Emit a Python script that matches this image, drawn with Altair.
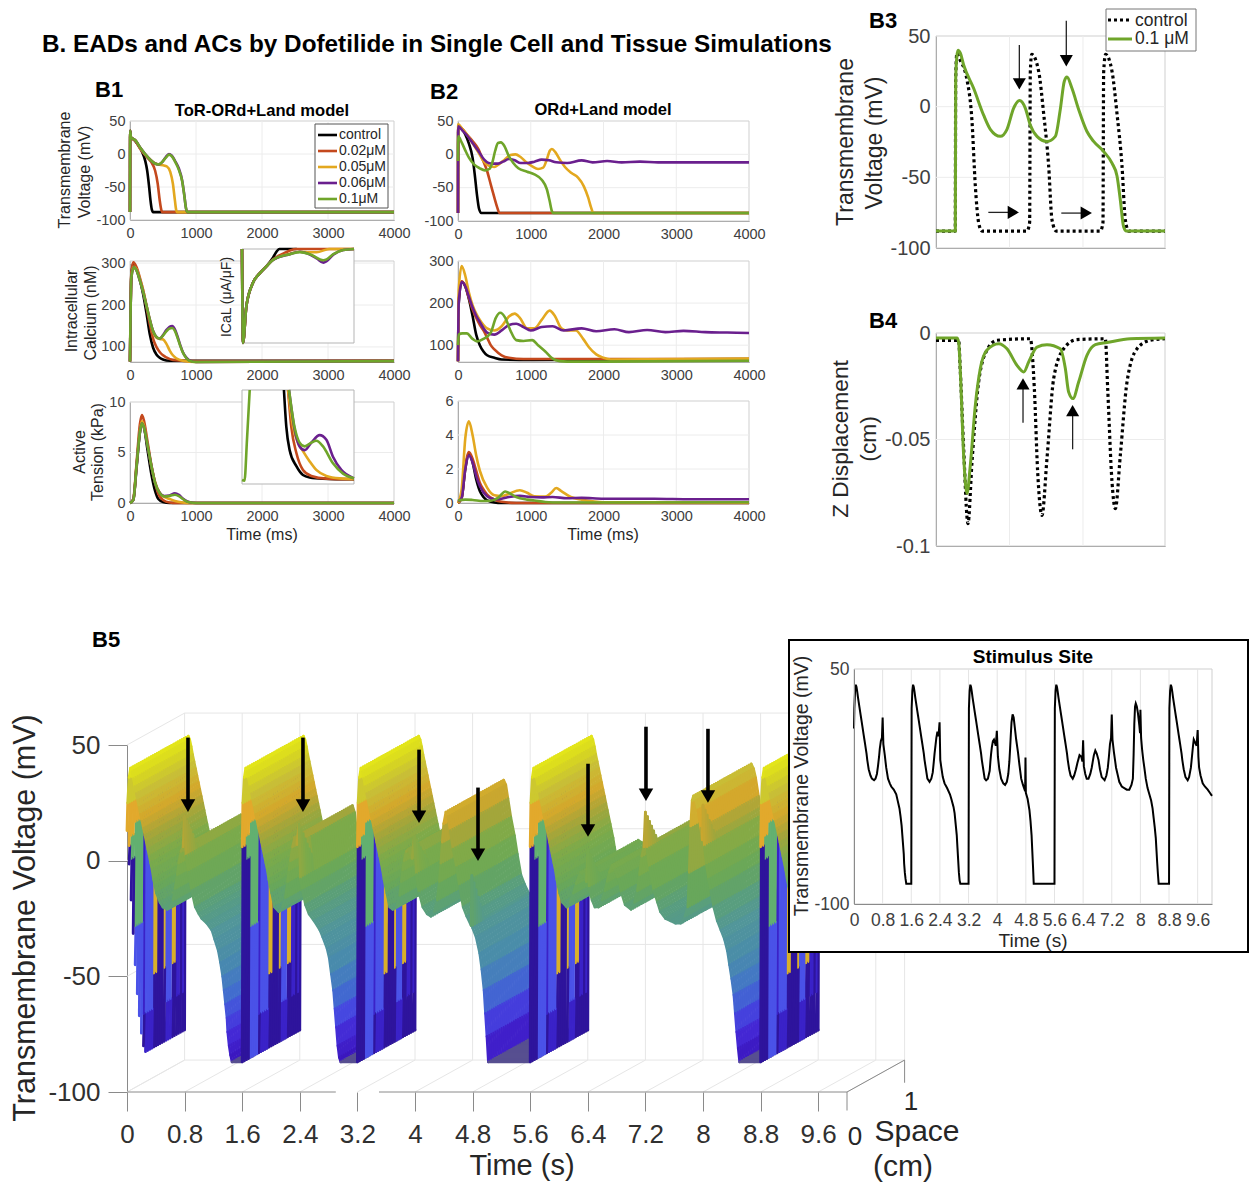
import numpy as np
import pandas as pd
import altair as alt

alt.data_transformers.disable_max_rows()

W, H = 1241, 1175
FONT = "Liberation Sans"
BLACK, RED, YEL, PUR, GRN = "#000000", "#c4491d", "#e3a81f", "#6a1f8e", "#6fa52a"
B1_COLORS = [BLACK, RED, YEL, PUR, GRN]

# ---------- B1 traces (t in ms) ----------
B1V = [
 [(0,-88),(3,35),(15,25),(60,22),(120,14),(180,4),(230,-10),(260,-25),(290,-50),(310,-70),(330,-84),(350,-88),(4000,-88)],
 [(0,-88),(3,35),(15,25),(80,20),(160,7),(240,-3),(320,-12),(380,-25),(420,-45),(450,-70),(475,-85),(490,-88),(4000,-88)],
 [(0,-88),(3,35),(15,25),(80,21),(160,8),(280,-6),(360,-13),(430,-16),(500,-17),(560,-19),(610,-27),(650,-45),(680,-70),(700,-85),(715,-88),(4000,-88)],
 [(0,-88),(3,35),(15,25),(80,21),(160,9),(280,-6),(370,-14),(430,-16),(480,-13),(540,-5),(590,0),(630,-2),(680,-10),(740,-22),(790,-40),(820,-60),(850,-83),(870,-88),(4000,-88)],
 [(0,-88),(3,35),(15,25),(80,21),(160,9),(280,-6),(370,-14),(430,-16),(480,-13),(540,-6),(590,-1),(630,-3),(680,-11),(740,-24),(790,-41),(820,-61),(850,-83),(870,-88),(4000,-88)],
]
B1C = [
 [(0,65),(20,270),(50,300),(100,285),(150,260),(200,225),(250,180),(300,130),(350,98),(400,82),(450,74),(500,70),(600,67),(1000,67),(4000,67)],
 [(0,65),(20,275),(50,302),(100,290),(150,265),(200,235),(250,195),(300,155),(350,120),(400,100),(450,88),(500,80),(550,75),(650,69),(1000,66),(4000,67)],
 [(0,65),(20,270),(60,292),(100,285),(150,262),(200,235),(250,200),(300,165),(350,135),(400,122),(450,119),(500,118),(550,108),(600,92),(650,80),(700,73),(800,67),(1000,64),(4000,66)],
 [(0,65),(20,265),(60,290),(100,282),(150,258),(200,230),(250,198),(300,165),(350,138),(400,124),(450,120),(500,128),(550,140),(600,148),(640,150),(680,142),(720,125),(760,105),(800,88),(850,75),(900,68),(1000,64),(4000,66)],
 [(0,65),(20,265),(60,290),(100,282),(150,258),(200,230),(250,198),(300,165),(350,138),(400,124),(450,120),(500,127),(550,137),(600,144),(640,145),(680,138),(720,122),(760,103),(800,87),(850,74),(900,67),(1000,64),(4000,66)],
]
B1T = [
 [(0,0),(50,.3),(100,3.5),(150,7),(180,8),(210,7.6),(260,5.5),(320,3),(380,1.2),(430,.4),(500,.1),(600,0),(4000,0)],
 [(0,0),(50,.4),(100,4),(150,7.8),(180,8.7),(210,8.2),(260,6.3),(320,3.9),(380,2),(430,.9),(500,.3),(600,.05),(700,0),(4000,0)],
 [(0,0),(50,.3),(100,3.8),(150,7.2),(180,8.1),(210,7.7),(260,6),(320,3.8),(380,2.1),(450,1),(520,.6),(600,.4),(680,.2),(800,.05),(900,0),(4000,0)],
 [(0,0),(50,.3),(100,3.7),(150,7),(180,7.9),(210,7.5),(260,5.9),(320,3.8),(380,2),(450,1),(520,.7),(600,.75),(680,.95),(740,.8),(800,.45),(870,.15),(950,.03),(1050,0),(4000,0)],
 [(0,0),(50,.3),(100,3.7),(150,7),(180,7.9),(210,7.5),(260,5.9),(320,3.8),(380,2),(450,1),(520,.65),(600,.7),(680,.82),(740,.68),(800,.4),(870,.12),(950,.03),(1050,0),(4000,0)],
]
# ---------- B1 insets ----------
ICAL_HEAD = [(0,0),(8,-10),(35,-6.1),(88,-3.6),(142,-2.6),(196,-1.85)]
ICAL = [
 ICAL_HEAD+[(250,-.9),(282,-.2),(300,0),(440,0)],
 ICAL_HEAD+[(250,-1.1),(330,-.5),(385,-.15),(440,0),(900,0)],
 ICAL_HEAD+[(250,-1.15),(385,-.5),(466,-.3),(546,-.35),(600,-.35),(700,0),(900,0)],
 ICAL_HEAD+[(250,-1.15),(385,-.55),(466,-.3),(546,-.6),(600,-1),(654,-1.45),(680,-1.3),(734,-.6),(815,-.1),(900,0)],
 ICAL_HEAD+[(250,-1.15),(385,-.55),(466,-.33),(546,-.55),(654,-1.2),(680,-1.1),(734,-.55),(815,-.1),(900,0)],
]
TEN_HEAD = [(0,.43),(20,.36),(40,4.7),(62,10)]
TENS_A = [[(337,10),(356,6.1),(383,3.6),(437,1.9),(490,.96),(544,.7),(650,.57),(900,.5)],
          [(370,10),(396,6.1),(437,3.3),(490,1.5),(557,.86),(678,.57),(900,.5)],
          [(370,10),(410,6.1),(450,4.4),(490,3.5),(544,2.4),(597,1.5),(678,.86),(785,.6),(900,.54)],
          [(378,10),(423,5.8),(463,4),(504,3.6),(557,4.4),(624,5.2),(678,4.7),(731,2.9),(798,1.5),(900,.6)],
          [(378,10),(423,6),(463,4.4),(504,4),(557,4.4),(597,4.6),(651,4),(731,2.2),(812,1.1),(900,.6)]]
# ---------- B2 traces ----------
B2V = [
 [(0,-88),(3,43),(50,38),(100,30),(150,16),(200,-5),(230,-30),(260,-60),(290,-82),(320,-88),(4000,-88)],
 [(0,-88),(3,43),(60,38),(120,30),(200,20),(280,8),(340,-8),(400,-25),(450,-45),(500,-65),(540,-80),(570,-88),(4000,-88)],
 [(0,-88),(3,45),(60,38),(120,30),(200,17),(280,3),(350,-10),(420,-17),(500,-19),(560,-15),(640,-8),(720,-1),(790,0),(860,-4),(940,-12),(1020,-18),(1100,-22),(1170,-20),(1220,-8),(1260,5),(1290,8),(1340,3),(1400,-8),(1470,-19),(1560,-28),(1650,-35),(1730,-48),(1790,-65),(1830,-80),(1860,-88),(4000,-88)],
 [(0,-88),(3,42),(60,36),(120,29),(200,17),(280,5),(360,-8),(420,-13),(480,-14),(550,-14),(620,-11),(700,-7),(780,-9),(860,-13),(960,-13),(1050,-11),(1150,-8),(1250,-9),(1350,-12),(1500,-13),(1700,-9),(1850,-12),(2050,-10),(2250,-12),(2500,-11),(2750,-12),(3000,-12),(3250,-12),(3500,-12),(4000,-12)],
 [(0,-10),(3,27),(50,18),(100,6),(150,-5),(220,-15),(300,-21),(370,-24),(430,-22),(470,-13),(510,5),(550,17),(590,18),(640,12),(700,-3),(760,-13),(830,-21),(950,-26),(1050,-30),(1150,-38),(1220,-52),(1260,-70),(1290,-85),(1310,-88),(4000,-88)],
]
B2C = [
 [(0,62),(10,200),(50,250),(100,240),(150,210),(200,170),(250,125),(300,100),(350,85),(400,76),(500,70),(600,66),(1000,65),(4000,67)],
 [(0,62),(10,210),(50,252),(100,240),(150,212),(200,185),(250,165),(300,148),(350,135),(400,118),(450,100),(500,90),(600,76),(700,70),(900,67),(4000,67)],
 [(0,62),(10,230),(50,288),(100,265),(150,225),(200,195),(250,175),(300,160),(400,140),(500,135),(600,145),(700,168),(780,175),(850,165),(950,140),(1050,140),(1150,160),(1260,182),(1330,170),(1420,140),(1500,135),(1620,135),(1720,115),(1800,95),(1900,78),(2000,70),(2100,66),(4000,68)],
 [(0,62),(10,200),(50,250),(100,240),(150,215),(200,190),(250,170),(300,155),(400,130),(500,125),(600,135),(700,148),(800,151),(900,143),(1000,135),(1150,143),(1300,145),(1450,135),(1700,140),(1900,133),(2150,138),(2350,131),(2600,136),(2850,131),(3100,134),(3400,131),(3700,130),(4000,129)],
 [(0,100),(10,125),(60,128),(120,128),(200,115),(260,109),(350,115),(450,130),(520,165),(580,177),(650,165),(720,135),(800,112),(900,110),(1020,112),(1100,100),(1200,85),(1300,68),(1400,62),(1500,61),(2000,61),(4000,63)],
]
B2T = [
 [(0,0),(50,.3),(100,2),(150,2.9),(200,2.4),(250,1.4),(300,.7),(350,.35),(400,.15),(500,.03),(600,0),(4000,0)],
 [(0,0),(50,.3),(100,2.1),(150,3),(200,2.6),(250,1.9),(300,1.2),(350,.8),(400,.5),(500,.2),(600,.07),(800,0),(4000,0)],
 [(0,0),(50,.8),(100,3.8),(150,4.8),(200,4),(250,2.8),(300,1.9),(400,.9),(500,.45),(600,.4),(700,.55),(850,.75),(950,.6),(1050,.4),(1200,.38),(1280,.6),(1350,.88),(1420,.7),(1550,.35),(1700,.2),(1850,.1),(2000,.04),(4000,.03)],
 [(0,.1),(50,.3),(100,2),(150,2.8),(200,2.4),(250,1.6),(300,1),(400,.4),(500,.22),(600,.25),(700,.35),(850,.42),(1000,.35),(1150,.33),(1300,.35),(1500,.28),(1700,.3),(2000,.25),(2300,.25),(2700,.25),(3200,.22),(4000,.22)],
 [(0,.15),(100,.2),(200,.18),(350,.12),(450,.13),(550,.3),(650,.68),(720,.55),(800,.35),(950,.2),(1050,.15),(1200,.06),(1400,.03),(4000,.04)],
]
# ---------- B3 / B4 ----------
B3_CTRL = [(0,-88),(262,-88),(268,20),(285,38),(310,35),(422,19),(490,-10.5),(535,-56),(580,-82),(626,-88),(1238,-88),(1274,-82),(1283,24),(1302,37),(1397,25),(1465,-5),(1533,-42),(1578,-80),(1637,-88),(2236,-88),(2272,-82),(2281,24),(2308,37),(2395,25),(2463,-5),(2531,-42),(2576,-80),(2621,-88),(3116,-88)]
B3_DRUG = [(0,-88),(263,-88),(268,20),(285,36),(300,40),(330,38),(376,29.5),(512,13),(648,-6),(739,-16),(875,-21),(966,-16),(1057,-1),(1138,4.3),(1215,-1),(1283,-13),(1374,-21),(1510,-24.6),(1624,-21),(1691,-2),(1746,18),(1782,21),(1850,13),(1941,-2),(2054,-17.6),(2145,-24.6),(2281,-31.7),(2395,-40),(2463,-49),(2508,-66),(2553,-85),(2590,-88),(3116,-88)]
B4_CTRL = [(0,-.0035),(308,-.0035),(331,-.018),(376,-.054),(435,-.0895),(490,-.0605),(580,-.023),(694,-.008),(830,-.0034),(1283,-.0027),(1338,-.026),(1383,-.065),(1442,-.0856),(1510,-.059),(1601,-.0214),(1737,-.0074),(1918,-.0031),(2304,-.0027),(2336,-.026),(2395,-.07),(2440,-.0825),(2508,-.0574),(2599,-.023),(2735,-.0074),(2916,-.0034),(3116,-.0027)]
B4_DRUG = [(0,-.0023),(286,-.0023),(308,-.0042),(331,-.018),(376,-.0574),(422,-.0754),(467,-.062),(535,-.034),(603,-.0167),(694,-.008),(853,-.005),(966,-.0074),(1102,-.0152),(1193,-.0183),(1261,-.0136),(1374,-.0066),(1510,-.0055),(1692,-.0074),(1760,-.0167),(1805,-.0277),(1864,-.0308),(1941,-.023),(2054,-.0105),(2168,-.0055),(2327,-.0045),(2644,-.0027),(3116,-.0023)]

# ---------- B5 stimulus-site trace (t in s, mV) ----------
UPSTROKES = [0, 1.6, 3.2, 5.6, 8.8]
PLATEAU = [(0,-87),(.01,25),(.03,36),(.05,40),(.07,38.5),(.09,35.5),(.11,32),(.13,29),(.15,26),(.17,23),(.19,20),(.21,17),(.23,14),(.25,11),(.27,8),(.29,5),(.31,2),(.33,-1),(.35,-4),(.37,-8),(.39,-11),(.41,-14)]
TAILS = [
 [(.46,-18),(.50,-20),(.56,-21),(.60,-20),(.64,-17),(.67,-12),(.70,-6),(.72,-1),(.75,4),(.78,6),(.82,2),(.86,-5),(.90,-13),(.95,-20),(1.0,-23),(1.04,-25),(1.11,-27),(1.18,-30),(1.22,-34),(1.27,-39),(1.30,-44),(1.33,-50),(1.35,-56),(1.37,-62),(1.39,-68),(1.40,-74),(1.42,-80),(1.44,-84),(1.46,-87)],
 [(2.05,-20),(2.11,-22),(2.16,-20),(2.20,-16),(2.23,-9),(2.25,-4),(2.27,0),(2.30,6),(2.33,10),(2.36,7),(2.41,-8),(2.44,-13),(2.48,-19),(2.53,-23),(2.60,-26),(2.68,-30),(2.72,-33),(2.78,-38),(2.81,-42),(2.84,-49),(2.87,-56),(2.89,-64),(2.91,-72),(2.93,-80),(2.95,-85),(2.97,-87)],
 [(3.65,-20),(3.69,-21),(3.74,-20),(3.79,-15),(3.81,-9),(3.83,-4),(3.85,0),(3.88,4),(3.91,5),(3.96,1),(4.02,-6),(4.06,-14),(4.11,-20),(4.17,-23),(4.22,-24),(4.27,-22),(4.31,-17),(4.34,-9),(4.36,-1),(4.38,8),(4.40,16),(4.43,21),(4.46,19),(4.49,13),(4.53,5),(4.58,-3),(4.62,-11),(4.67,-20),(4.72,-24),(4.78,-28),(4.80,-29),(4.85,-33),(4.90,-40),(4.93,-47),(4.96,-56),(4.98,-66),(5.00,-76),(5.02,-87)],
 [(6.05,-18),(6.11,-20),(6.15,-18),(6.20,-14),(6.24,-10),(6.30,-5),(6.35,-6),(6.38,-9),(6.42,-12),(6.46,-17),(6.50,-20),(6.55,-20),(6.60,-17),(6.64,-13),(6.67,-9),(6.70,-5),(6.74,-2),(6.78,-4),(6.83,-8),(6.87,-14),(6.92,-19),(7.0,-21),(7.05,-18),(7.09,-13),(7.12,-6),(7.15,2),(7.18,6),(7.22,5),(7.26,-3),(7.32,-13),(7.37,-18),(7.41,-22),(7.48,-25),(7.55,-26),(7.62,-27),(7.69,-27),(7.75,-24),(7.79,-20),(7.81,-5),(7.83,15),(7.85,26),(7.87,28),(7.90,26),(7.93,22),(7.97,14),(7.99,9),(8.02,6),(8.05,-2),(8.08,-8),(8.11,-13),(8.15,-20),(8.20,-26),(8.25,-30),(8.30,-34),(8.34,-39),(8.37,-45),(8.40,-51),(8.43,-58),(8.45,-66),(8.47,-74),(8.49,-81),(8.51,-87)],
 [(9.26,-19),(9.32,-21),(9.36,-19),(9.41,-13),(9.44,-6),(9.47,1),(9.49,5),(9.53,3),(9.57,1),(9.62,-6),(9.64,-13),(9.68,-18),(9.74,-23),(9.80,-25),(9.88,-27),(9.94,-29),(10.0,-31)],
]
SPIKES = [(.80,19),(2.39,16),(3.99,10.5),(4.79,-6.5),(6.40,4.5),(7.20,21),(8.00,24),(9.60,11)]
FIRST_EDGE = [13,-2,-18,-33,-47,-60,-70,-78,-84,-87]

# surface colours (mV -> colour)
SURF_V = [-87,-78,-68,-58,-45,-32,-22,-12,0,10,18,28,35,40]
SURF_C = ["#3a16bc","#4426d4","#4648e0","#4272cc","#4a8cab","#52969a","#5a9f7c","#69a85a","#7dab4a","#a8a63a","#d4a82c","#c8c038","#d8d820","#e6e81a"]
D, M, B, Y = "#2e149c", "#3a22c8", "#4a52e8", "#d9b02a"
G, O = "#62b070", "#e2a92c"
# wall colour pieces per mesh level: (break voltages, colours)
WALL = {0:([6],[D,O]),1:([6],[D,O]),2:([0,10],[D,G,O]),3:([0,10],[D,G,O]),
        4:([-30,15],[B,G,O]),5:([-30,15],[B,G,O]),6:([-30,15],[B,G,O]),7:([-30,15],[B,G,O]),
        8:([-70],[D,M]),9:([-70],[M,B]),10:([-70],[M,B]),11:([-70],[M,B]),12:([-70],[M,B]),
        13:([-55],[D,Y]),14:([-55],[D,Y]),15:([-90],[D,D]),16:([-90],[D,D]),17:([-90],[D,D]),
        18:([-55],[D,Y]),19:([-70],[M,B]),20:([-70],[M,B]),21:([-70],[M,B]),22:([-55],[D,Y]),
        23:([-55],[D,Y]),24:([-70],[D,M]),25:([-70],[D,M]),26:([-90],[D,D]),27:([-70],[D,M]),28:([-90],[D,D])}
LEVELS = 28
SPACE_SHIFT_T, SPACE_SHIFT_V = 0.8, 13.8

ARROWS_B5 = [(.847,53.2,23.8),(2.444,53.2,23.8),(4.056,48,19),(4.875,31.6,2.6),(6.403,41.9,13),(7.208,57.9,28.5),(8.069,57,27.7)]
ARROWS_B3_V = [(1134,43.6,16.1),(1773,60.8,32.5)]
ARROWS_B3_H = [(712,1052,-74.8),(1705,2045,-75.3)]
ARROWS_B4 = [(1184,-.0421,-.0239),(1859,-.0546,-.0364)]
NUM = "'' + datum.value"


def S(dom, rng):
    return alt.Scale(domain=dom, range=[r - 8 for r in rng], nice=False, zero=False, clamp=False)


def axis(orient, offset, values, size, padding=4, z=0, tick=0, domain=True, labels=True,
         color="#404040", dcolor="#8a8a8a"):
    kw = dict(orient=orient, offset=offset, values=values, labelFontSize=size, labelFont=FONT, labelColor=color,
              labelPadding=padding, tickSize=tick, tickColor=dcolor, domain=domain, domainColor=dcolor, grid=False,
              title=None, zindex=z, labelOverlap=False, labelFlush=False, labels=labels, domainWidth=1, ticks=tick > 0,
              labelExpr=NUM)
    return alt.Axis(**kw)


def frame(sx, sy, xd, yd, xax=None, yax=None, fill=None, stroke="#cfcfcf"):
    df = pd.DataFrame({"x": [xd[0]], "x2": [xd[1]], "y": [yd[0]], "y2": [yd[1]]})
    kw = dict(fill=fill) if fill else dict(fillOpacity=0)
    return alt.Chart(df).mark_rect(stroke=stroke, strokeWidth=1, **kw).encode(
        x=alt.X("x:Q", scale=sx, axis=xax), x2="x2:Q", y=alt.Y("y:Q", scale=sy, axis=yax), y2="y2:Q")


def segs(rows, sx, sy, color=None, width=1, dash=None):
    df = pd.DataFrame(rows, columns=["x", "y", "x2", "y2"])
    kw = {}
    if dash:
        kw["strokeDash"] = dash
    return alt.Chart(df).mark_rule(color=color, strokeWidth=width, **kw).encode(
        x=alt.X("x:Q", scale=sx, axis=None), x2="x2:Q", y=alt.Y("y:Q", scale=sy, axis=None), y2="y2:Q")


def grid(xs, ys, xd, yd, sx, sy, color="#ececec"):
    rows = [(v, yd[0], v, yd[1]) for v in xs] + [(xd[0], v, xd[1], v) for v in ys]
    return segs(rows, sx, sy, color=color, width=1)


def curves(series, colors, sx, sy, width=2.6, interp="monotone", dash=None):
    rows = []
    for k, (pts, c) in enumerate(zip(series, colors)):
        for i, (t, v) in enumerate(pts):
            rows.append({"t": t, "v": v, "c": f"{k}{c}", "i": i})
    df = pd.DataFrame(rows)
    dom = [f"{k}{c}" for k, c in enumerate(colors)]
    kw = {}
    if dash:
        kw["strokeDash"] = dash
    return alt.Chart(df).mark_line(strokeWidth=width, interpolate=interp, **kw).encode(
        x=alt.X("t:Q", scale=sx, axis=None), y=alt.Y("v:Q", scale=sy, axis=None),
        color=alt.Color("c:N", scale=alt.Scale(domain=dom, range=list(colors)), legend=None),
        order=alt.Order("i:Q"))


def heads(rows, shape, size, sx, sy):
    df = pd.DataFrame(rows, columns=["x", "y"])
    return alt.Chart(df).mark_point(shape=shape, size=size, filled=True, color="black", opacity=1, strokeWidth=0).encode(
        x=alt.X("x:Q", scale=sx, axis=None), y=alt.Y("y:Q", scale=sy, axis=None))


layers = []
T4K = [0, 1000, 2000, 3000, 4000]


def small_panel(xr, yr, yd, yticks, series, width=2.6):
    sx, sy = S([0, 4000], xr), S(yd, yr)
    xax = axis("bottom", yr[0] - 8 - (H), T4K, 14.5, padding=6)
    yax = axis("left", -(xr[0] - 8), yticks, 14.5, padding=5)
    layers.append(frame(sx, sy, [0, 4000], yd, xax, yax))
    layers.append(grid([1000, 2000, 3000], [v for v in yticks if v not in yd], [0, 4000], yd, sx, sy))
    layers.append(curves(series, B1_COLORS, sx, sy, width))


small_panel([130, 394], [220, 121], [-100, 50], [-100, -50, 0, 50], B1V)
small_panel([130, 394], [362, 261], [64, 305], [100, 200, 300], B1C)
small_panel([130, 394], [503, 402], [0, 10], [0, 5, 10], B1T)
small_panel([458, 749], [221, 121], [-100, 50], [-100, -50, 0, 50], B2V)
small_panel([458, 749], [362, 261], [60, 300], [100, 200, 300], B2C)
small_panel([458, 749], [503, 401], [0, 6], [0, 2, 4, 6], B2T)

# B1 insets
sxi, syi = S([0, 900], [242, 354]), S([-10, 0], [343, 249])
layers.append(frame(sxi, syi, [0, 900], [-10, 0], fill="white", stroke="#b5b5b5"))
layers.append(curves(ICAL, B1_COLORS, sxi, syi, 2.6))
sxj, syj = S([0, 900], [242, 354]), S([0, 10], [484, 390])
layers.append(frame(sxj, syj, [0, 900], [0, 10], fill="white", stroke="#b5b5b5"))
layers.append(curves([TEN_HEAD], [GRN], sxj, syj, 2.6))
layers.append(curves(TENS_A, B1_COLORS, sxj, syj, 2.6))

# B3
sx3, sy3 = S([0, 3116], [936, 1165]), S([-100, 50], [248, 36])
layers.append(frame(sx3, sy3, [0, 3116], [-100, 50],
                    axis("bottom", 248 - 8 - H, [1000, 2000], 20, labels=False),
                    axis("left", -(936 - 8), [-100, -50, 0, 50], 20, padding=6)))
layers.append(grid([1000, 2000], [-50, 0], [0, 3116], [-100, 50], sx3, sy3))
layers.append(curves([B3_CTRL], [BLACK], sx3, sy3, 3.2, dash=[3, 3]))
layers.append(curves([B3_DRUG], [GRN], sx3, sy3, 3))
layers.append(segs([(t, a, t, b) for t, a, b in ARROWS_B3_V], sx3, sy3, "#222222", 1.3))
layers.append(heads([(t, b) for t, a, b in ARROWS_B3_V], "triangle-down", 170, sx3, sy3))
layers.append(segs([(a, v, b, v) for a, b, v in ARROWS_B3_H], sx3, sy3, "#222222", 1.3))
layers.append(heads([(b, v) for a, b, v in ARROWS_B3_H], "triangle-right", 170, sx3, sy3))

# B4
sx4, sy4 = S([0, 3116], [936, 1165]), S([-.1, 0], [546, 333])
layers.append(frame(sx4, sy4, [0, 3116], [-.1, 0],
                    axis("bottom", 546 - 8 - H, [1000, 2000], 20, labels=False),
                    axis("left", -(936 - 8), [-.1, -.05, 0], 20, padding=6)))
layers.append(grid([1000, 2000], [-.05], [0, 3116], [-.1, 0], sx4, sy4))
layers.append(curves([B4_CTRL], [BLACK], sx4, sy4, 3.2, dash=[3, 3]))
layers.append(curves([B4_DRUG], [GRN], sx4, sy4, 3))
layers.append(segs([(t, a, t, b) for t, a, b in ARROWS_B4], sx4, sy4, "#222222", 1.3))
layers.append(heads([(t, b) for t, a, b in ARROWS_B4], "triangle-up", 170, sx4, sy4))

# ---------- B5 surface ----------
sx5, sy5 = S([0, 11], [127, 919]), S([-100, 50], [1092, 745])
TICKS5 = [0, .8, 1.6, 2.4, 3.2, 4, 4.8, 5.6, 6.4, 7.2, 8, 8.8, 9.6]
layers.append(alt.Chart(pd.DataFrame({"x": [0.0, 0.0], "y": [-100.0, 50.0]})).mark_point(opacity=0).encode(
    x=alt.X("x:Q", scale=sx5, axis=axis("bottom", 1092 - 8 - H, TICKS5, 26, padding=10, tick=19, domain=False, color="#303030")),
    y=alt.Y("y:Q", scale=sy5, axis=axis("left", -(127 - 8), [-100, -50, 0, 50], 26, padding=8, tick=19, color="#303030"))))
sh_t, sh_v = SPACE_SHIFT_T, SPACE_SHIFT_V
wall_rows = []
for t in TICKS5 + [10]:
    wall_rows.append((t, -100, t + sh_t, -100 + sh_v))
    wall_rows.append((t + sh_t, -100 + sh_v, t + sh_t, 50 + sh_v))
for v in [-100, -50, 0, 50]:
    wall_rows.append((sh_t, v + sh_v, 10 + sh_t, v + sh_v))
    wall_rows.append((0, v, sh_t, v + sh_v))
layers.append(segs(wall_rows, sx5, sy5, "#e6e6e6", 1))
layers.append(segs([(0, -100, 2.9, -100), (3.5, -100, 10, -100), (10, -100, 10.8, -86.2), (10.8, -86.2, 10.8, -96), (10, -100, 10, -108)],
                   sx5, sy5, "#8a8a8a", 1))


def hexcol(v):
    r = [int(c[1:3], 16) for c in SURF_C]
    g = [int(c[3:5], 16) for c in SURF_C]
    b = [int(c[5:7], 16) for c in SURF_C]
    return "#%02x%02x%02x" % (int(np.interp(v, SURF_V, r)), int(np.interp(v, SURF_V, g)), int(np.interp(v, SURF_V, b)))


base = []
for k, u in enumerate(UPSTROKES):
    base += [(u + dt, v, 0, k) for dt, v in PLATEAU]
    base += [(t, v, 0, k) for t, v in TAILS[k]]
merged = sorted(base + [(t, v, 1, -1) for t, v in SPIKES], key=lambda p: p[0])

rows = []
for lev in range(LEVELS, -1, -1):
    s = lev / LEVELS
    pts = []
    for j, (t, v, spike, beat) in enumerate(merged):
        if spike:
            if s > 0.22:
                continue
            ref = 0.5 * (merged[j - 1][1] + merged[j + 1][1]) if j + 1 < len(merged) else merged[j - 1][1]
            v = ref + (v - ref) * (1 - s / 0.22)
        pts.append((t, v))
    for (t0, v0), (t1, v1) in zip(pts[:-1], pts[1:]):
        xa, xb = t0 + s * sh_t, t1 + s * sh_t
        ya, yb = v0 + s * sh_v, v1 + s * sh_v
        if v0 == -87 and v1 > 0:  # upstroke wall
            start = -87
            if t0 == 0:
                start = FIRST_EDGE[lev] if lev < len(FIRST_EDGE) else -87
            brks, cols = WALL[lev]
            edges = [start] + [b for b in brks if start < b < v1] + [v1]
            cols = cols[-(len(edges) - 1):]
            for e0, e1, c in zip(edges[:-1], edges[1:], cols):
                rows.append((xa, e0 + s * sh_v, xb, e1 + s * sh_v, c))
        else:
            c = "#574f90" if v0 == -87 and v1 == -87 else hexcol(0.5 * (v0 + v1))
            rows.append((xa, ya, xb, yb, c))
surf = pd.DataFrame(rows, columns=["x", "y", "x2", "y2", "c"]).round(3)
layers.append(alt.Chart(surf).mark_rule(strokeWidth=2.8, strokeCap="round").encode(
    x=alt.X("x:Q", scale=sx5, axis=None), x2="x2:Q", y=alt.Y("y:Q", scale=sy5, axis=None), y2="y2:Q",
    color=alt.Color("c:N", scale=None)))
layers.append(segs([(t, a, t, b) for t, a, b in ARROWS_B5], sx5, sy5, "black", 3.6))
layers.append(heads([(t, b) for t, a, b in ARROWS_B5], "triangle-down", 210, sx5, sy5))

# pixel-space helper for boxes, legends and text
PX = alt.Scale(domain=[8, W + 8], range=[0, W], nice=False, zero=False)
PY = alt.Scale(domain=[8, H + 8], range=[0, H], nice=False, zero=False)


def box(x0, x1, y0, y1, stroke, sw):
    df = pd.DataFrame({"x": [x0], "x2": [x1], "y": [y0], "y2": [y1]})
    return alt.Chart(df).mark_rect(fill="white", stroke=stroke, strokeWidth=sw).encode(
        x=alt.X("x:Q", scale=PX, axis=None), x2="x2:Q", y=alt.Y("y:Q", scale=PY, axis=None), y2="y2:Q")


# ---------- inset of B5 ----------
layers.append(box(789, 1248, 640, 952, "black", 2))
sx6, sy6 = S([0, 10], [854, 1212]), S([-100, 50], [904, 669])
INSET_TICKS = TICKS5
layers.append(frame(sx6, sy6, [0, 10], [-100, 50],
                    axis("bottom", 904 - 8 - H, INSET_TICKS, 17.5, padding=7, z=1),
                    axis("left", -(854 - 8), [-100, 50], 17.5, padding=5, z=1)))
layers.append(grid(INSET_TICKS[1:], [], [0, 10], [-100, 50], sx6, sy6, "#e4e4e4"))
inset_pts = [(t, v) for t, v, f, b in merged]
inset_pts[0] = (0.0, 12)
layers.append(curves([inset_pts], [BLACK], sx6, sy6, 2, interp="linear"))

# ---------- legends ----------
layers.append(box(315, 388, 124, 208, "#555555", 1))
LEG_Y = [135, 151, 167, 183, 199]
for y, c in zip(LEG_Y, B1_COLORS):
    layers.append(segs([(318, y, 337, y)], PX, PY, c, 2.6))
layers.append(box(1106, 1196, 9, 51, "#777777", 1))
layers.append(segs([(1108, 20, 1132, 20)], PX, PY, "black", 3, dash=[3, 3]))
layers.append(segs([(1108, 39, 1132, 39)], PX, PY, GRN, 3))

# ---------- text: (string, x, y, size, angle) ----------
BOLD_LEFT = [
 ("B. EADs and ACs by Dofetilide in Single Cell and Tissue Simulations", 42, 45, 24.3, 0),
 ("B1", 95, 90, 22, 0), ("B2", 430, 92, 22, 0), ("B3", 869, 21, 22, 0), ("B4", 869, 321, 22, 0), ("B5", 92, 640, 22, 0),
]
BOLD_CENTER = [
 ("ToR-ORd+Land model", 262, 111, 16.6, 0), ("ORd+Land model", 603, 110, 16.5, 0), ("Stimulus Site", 1033, 657, 19, 0),
]
CENTER = [
 ("Transmembrane", 65, 170, 16, 270), ("Voltage (mV)", 85, 172, 16, 270),
 ("Intracellular", 72, 311, 16, 270), ("Calcium (nM)", 91, 313, 16, 270),
 ("Active", 80, 452, 16, 270), ("Tension (kPa)", 98, 452, 16, 270),
 ("ICaL (μA/μF)", 227, 297, 14, 270),
 ("Time (ms)", 262, 535, 16, 0), ("Time (ms)", 603, 535, 16, 0),
 ("Transmembrane", 846, 142, 23, 270), ("Voltage (mV)", 875, 143, 23, 270),
 ("Z Displacement", 841, 439, 22.7, 270), ("(cm)", 869, 439, 22.7, 270),
 ("Transmembrane Voltage (mV)", 26, 918, 30.5, 270),
 ("Time (s)", 522, 1166, 29, 0), ("Space", 917, 1132, 30, 0), ("(cm)", 903, 1167, 30, 0),
 ("1", 911, 1102, 26, 0), ("0", 855, 1137, 26, 0),
 ("Transmembrane Voltage (mV)", 802, 786, 19.5, 270), ("Time (s)", 1033, 941, 19, 0),
]
LEFT = [
 ("control", 339, 135, 14, 0), ("0.02μM", 339, 151, 14, 0), ("0.05μM", 339, 167, 14, 0), ("0.06μM", 339, 183, 14, 0), ("0.1μM", 339, 199, 14, 0),
 ("control", 1135, 21, 17.5, 0), ("0.1 μM", 1135, 39, 17.5, 0),
]


def text_layer(items, align, weight="normal", color="#262626"):
    df = pd.DataFrame(items, columns=["t", "x", "y", "fs", "a"])
    return alt.Chart(df).mark_text(align=align, baseline="middle", font=FONT, fontWeight=weight, color=color).encode(
        x=alt.X("x:Q", scale=PX, axis=None), y=alt.Y("y:Q", scale=PY, axis=None), text="t:N",
        size=alt.Size("fs:Q", scale=None), angle=alt.Angle("a:Q", scale=None))


layers.append(text_layer(BOLD_LEFT, "left", "bold", "black"))
layers.append(text_layer(BOLD_CENTER, "center", "bold", "black"))
layers.append(text_layer(CENTER, "center"))
layers.append(text_layer(LEFT, "left"))

chart = alt.layer(*layers).resolve_scale(x="independent", y="independent", color="independent").properties(
    width=W, height=H, padding=0, autosize=alt.AutoSizeParams(type="none"),
).configure_view(stroke=None)

chart.save("out.html", embed_options={"renderer": "svg", "actions": False})
